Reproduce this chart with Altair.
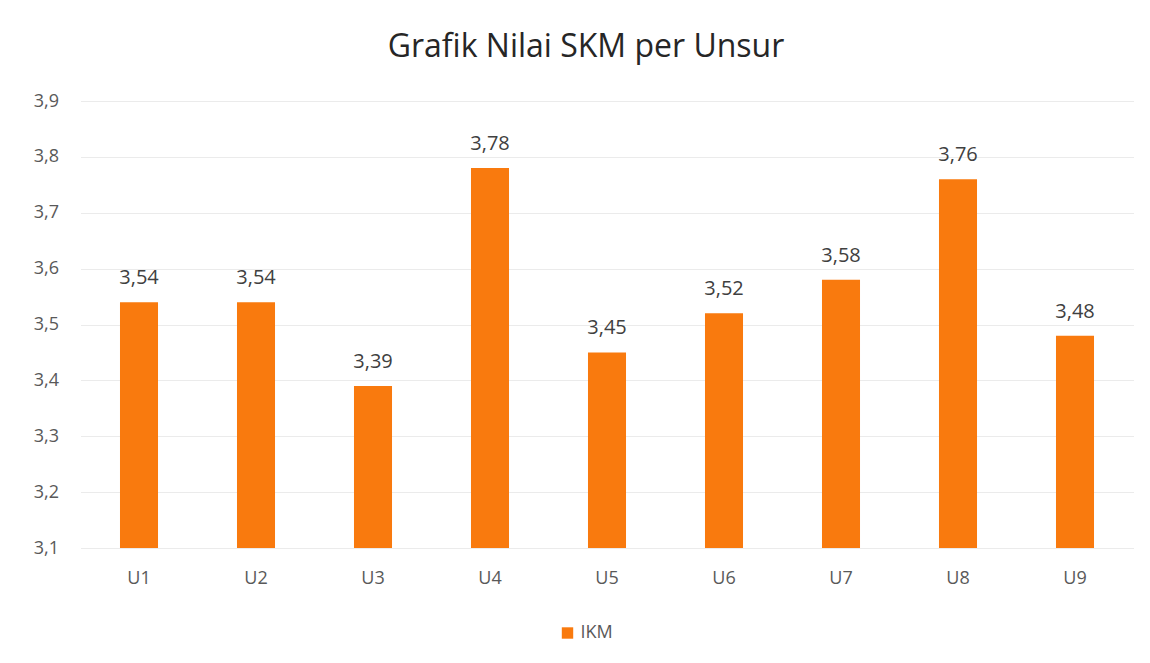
import altair as alt
import pandas as pd

categories = ["U1", "U2", "U3", "U4", "U5", "U6", "U7", "U8", "U9"]
values = [3.54, 3.54, 3.39, 3.78, 3.45, 3.52, 3.58, 3.76, 3.48]
series_name = "IKM"
y_ticks = [3.1, 3.2, 3.3, 3.4, 3.5, 3.6, 3.7, 3.8, 3.9]

df = pd.DataFrame({"Unsur": categories, "Nilai": values, "Seri": [series_name] * len(categories)})
df["Label"] = [f"{v:.2f}".replace(".", ",") for v in values]

FONT = "Open Sans"
ORANGE = "#F97A0E"

x = alt.X("Unsur:N", sort=categories, title=None,
          scale=alt.Scale(paddingInner=0.675, paddingOuter=0.3375),
          axis=alt.Axis(labelAngle=0, domain=False, ticks=False, labelPadding=21,
                        labelFontSize=18, labelColor="#595959", labelFont=FONT))
y = alt.Y("Nilai:Q", title=None,
          scale=alt.Scale(domain=[3.1, 3.9], zero=False, nice=False),
          axis=alt.Axis(values=y_ticks, domain=False, ticks=False, labelPadding=22,
                        labelFontSize=18, labelColor="#595959", labelFont=FONT,
                        gridColor="#EBEBEB", gridWidth=1,
                        labelExpr="replace(format(datum.value, '.1f'), '.', ',')"))

bars = alt.Chart(df).mark_bar(color=ORANGE).encode(
    x=x, y=y, y2=alt.datum(3.1),
    color=alt.Color("Seri:N", scale=alt.Scale(range=[ORANGE]),
                    legend=alt.Legend(title=None, orient="none", legendX=478, legendY=523,
                                      symbolType="square", symbolSize=130,
                                      labelFontSize=18, labelColor="#595959", labelFont=FONT))
)

labels = alt.Chart(df).mark_text(dy=-24, fontSize=20, color="#404040", font=FONT).encode(
    x=alt.X("Unsur:N", sort=categories), y="Nilai:Q", text="Label:N"
)

chart = (bars + labels).properties(
    width=1053, height=447,
    title=alt.TitleParams("Grafik Nilai SKM per Unsur", fontSize=32, font=FONT,
                          fontWeight="normal", color="#262626", anchor="middle",
                          dx=-21, offset=28),
    autosize=alt.AutoSizeParams(type="none"),
    padding={"left": 72.5, "top": 93, "right": 8, "bottom": 107},
    background="white"
).configure_view(stroke=None)

chart.save("out.html", embed_options={"renderer": "svg", "actions": False})
